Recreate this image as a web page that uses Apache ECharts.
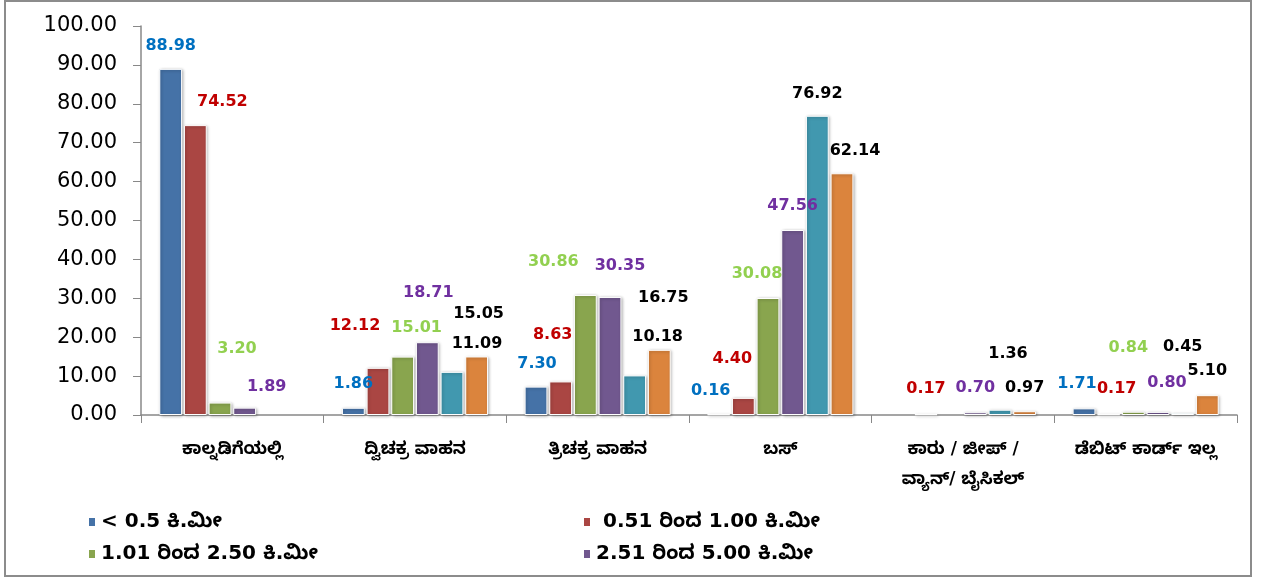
<!DOCTYPE html>
<html>
<head>
<meta charset="utf-8">
<script src="https://cdn.jsdelivr.net/npm/echarts@6/dist/echarts.min.js"></script>
<style>
  html, body { margin: 0; padding: 0; background: #fff; }
  #chart { width: 1268px; height: 580px; }
</style>
</head>
<body>
<div id="chart"></div>
<script>
// categories (x axis)
const categories = [
  'ಕಾಲ್ನಡಿಗೆಯಲ್ಲಿ',
  'ದ್ವಿಚಕ್ರ ವಾಹನ',
  'ತ್ರಿಚಕ್ರ ವಾಹನ',
  'ಬಸ್',
  'ಕಾರು / ಜೀಪ್ /\nವ್ಯಾನ್/ ಬೈಸಿಕಲ್',
  'ಡೆಬಿಟ್ ಕಾರ್ಡ್ ಇಲ್ಲ'
]

const seriesNames = [
  '< 0.5 ಕಿ.ಮೀ',
  ' 0.51 ರಿಂದ 1.00 ಕಿ.ಮೀ',
  '1.01 ರಿಂದ 2.50 ಕಿ.ಮೀ',
  '2.51 ರಿಂದ 5.00 ಕಿ.ಮೀ',
  '5.01 ರಿಂದ 10.00 ಕಿ.ಮೀ',
  '> 10.00 ಕಿ.ಮೀ'
]

// values per series, one per category
const below05 = [88.98, 1.86, 7.30, 0.16, null, 1.71]
const from051 = [74.52, 12.12, 8.63, 4.40, 0.17, 0.17]
const from101 = [3.20, 15.01, 30.86, 30.08, null, 0.84]
const from251 = [1.89, 18.71, 30.35, 47.56, 0.70, 0.80]
const from501 = [null, 11.09, 10.18, 76.92, 1.36, 0.45]
const above10 = [null, 15.05, 16.75, 62.14, 0.97, 5.10]

const yTicks = { min: 0, max: 100, interval: 10 }

// layout: label nudges (dx, dy) copied from the hand-moved labels of the original
const labelNudge = [
  [[0, 0], [0, -1], [1, 0], [-8, 0], [0, 0], [-7, -2]],
  [[27, 0], [-23, -19], [-8, -24], [-11, -16], [0, -2], [8, -2]],
  [[17, -31], [14, -6], [-32, -10], [-11, -1], [0, 0], [-5, -41]],
  [[22, 2], [1, -26], [10, -8], [0, -1], [0, -1], [9, -6]],
  [[0, 0], [25, -5], [23, -16], [0, 1], [8, -33], [0, -43]],
  [[0, 0], [2, -20], [4, -29], [13, 1], [0, 0], [0, -1]]
]

const barColors = ['#4572A7', '#AA4643', '#89A54E', '#71588F', '#4198AF', '#DB843D']
const labelColors = ['#0070C0', '#C00000', '#92D050', '#7030A0', '#000000', '#000000']

const allValues = [below05, from051, from101, from251, from501, above10]

const chart = echarts.init(document.getElementById('chart'))

// only the first four series are in the (cropped) legend
const legendPos = [
  { left: 82, top: 507 },
  { left: 577, top: 507 },
  { left: 82, top: 539 },
  { left: 577, top: 539 }
]

chart.setOption({
  backgroundColor: '#fff',
  animation: false,
  graphic: [{
    type: 'rect',
    shape: { x: 5, y: 1, width: 1246, height: 575 },
    style: { fill: 'none', stroke: '#8c8c8c', lineWidth: 2 }
  }],
  legend: legendPos.map((p, i) => ({
    left: p.left,
    top: p.top,
    data: [seriesNames[i]],
    icon: 'rect',
    itemWidth: 8,
    itemHeight: 10,
    itemGap: 0,
    textStyle: {
      fontFamily: 'DejaVu Sans, Noto Sans Kannada, Noto Sans',
      fontWeight: 'bold',
      fontSize: 20,
      color: '#000'
    }
  })),
  grid: {
    left: 141,
    right: 31,
    top: 26,
    bottom: 165
  },
  xAxis: {
    type: 'category',
    data: categories,
    axisLine: { lineStyle: { color: '#888', width: 1.5 } },
    axisTick: { show: true, length: 8, lineStyle: { color: '#888' } },
    axisLabel: {
      interval: 0,
      margin: 20,
      fontSize: 17,
      lineHeight: 30,
      fontWeight: 'bold',
      fontFamily: 'DejaVu Sans, Noto Sans Kannada, Noto Sans',
      color: '#000'
    }
  },
  yAxis: {
    type: 'value',
    min: yTicks.min,
    max: yTicks.max,
    interval: yTicks.interval,
    axisLine: { show: true, lineStyle: { color: '#888', width: 1.5 } },
    axisTick: { show: true, length: 8, lineStyle: { color: '#888' } },
    splitLine: { show: false },
    axisLabel: {
      margin: 24,
      fontSize: 21,
      fontFamily: 'DejaVu Sans',
      color: '#000',
      formatter: v => v.toFixed(2)
    }
  },
  series: allValues.map((vals, s) => ({
    name: seriesNames[s],
    type: 'bar',
    barCategoryGap: '20%',
    barGap: '8%',
    itemStyle: {
      color: barColors[s],
      borderColor: '#fff',
      borderWidth: 1,
      shadowColor: 'rgba(0,0,0,0.3)',
      shadowBlur: 3,
      shadowOffsetX: 1,
      shadowOffsetY: 1
    },
    label: {
      show: true,
      position: 'top',
      distance: 15,
      fontFamily: 'DejaVu Sans',
      fontWeight: 'bold',
      fontSize: 16,
      color: labelColors[s],
      formatter: p => (p.value == null ? '' : p.value.toFixed(2))
    },
    data: vals.map((v, c) => ({
      value: v,
      label: { offset: labelNudge[s][c] }
    }))
  }))
})
</script>
</body>
</html>
